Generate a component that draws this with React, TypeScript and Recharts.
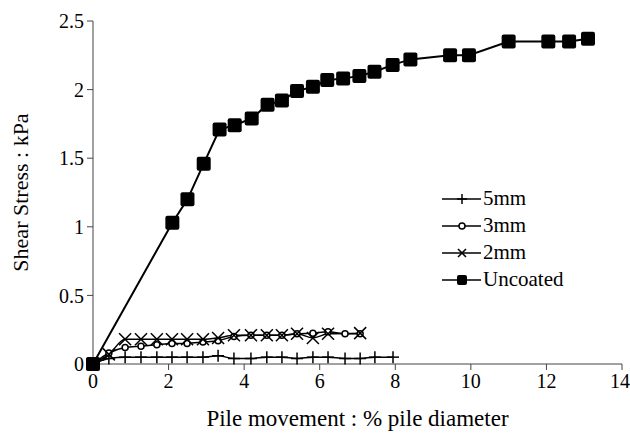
import { LineChart, Line, XAxis, YAxis } from 'recharts';

// pile movement (% pile diameter) for the coated series
const xCoated = [0, 0.42, 0.85, 1.27, 1.69, 2.09, 2.49, 2.91, 3.31, 3.73, 4.18, 4.6, 5.0, 5.4, 5.82, 6.22, 6.67, 7.07];
const x5mm = [...xCoated, 7.46, 7.94];
const x2mm = [0, 0.42, 0.85, 1.27, 1.69, 2.09, 2.49, 2.91, 3.31, 3.73, 4.18, 4.6, 5.0, 5.4, 5.82, 6.22, 7.07];
const xUncoated = [0, 2.1, 2.5, 2.93, 3.35, 3.75, 4.2, 4.62, 5.0, 5.4, 5.82, 6.2, 6.62, 7.05, 7.45, 7.93, 8.4, 9.45, 9.95, 11.0, 12.05, 12.6, 13.1];

// shear stress (kPa)
const s5mm = [0, 0.04, 0.05, 0.05, 0.05, 0.05, 0.05, 0.05, 0.06, 0.04, 0.04, 0.05, 0.05, 0.04, 0.05, 0.05, 0.04, 0.04, 0.05, 0.05];
const s3mm = [0, 0.08, 0.12, 0.13, 0.14, 0.15, 0.15, 0.16, 0.17, 0.2, 0.21, 0.21, 0.21, 0.22, 0.225, 0.235, 0.22, 0.22];
const s2mm = [0, 0.07, 0.18, 0.18, 0.18, 0.18, 0.18, 0.18, 0.19, 0.21, 0.21, 0.21, 0.21, 0.22, 0.19, 0.22, 0.225];
const sUncoated = [0, 1.03, 1.2, 1.46, 1.71, 1.74, 1.79, 1.89, 1.92, 1.99, 2.02, 2.07, 2.08, 2.1, 2.13, 2.18, 2.22, 2.25, 2.25, 2.35, 2.35, 2.35, 2.37];

const xTicks = [0, 2, 4, 6, 8, 10, 12, 14];
const yTicks = [0, 0.5, 1, 1.5, 2, 2.5];

const FONT = "'Times New Roman', 'Liberation Serif', 'DejaVu Serif', serif";

const toRows = (xs: number[], ys: number[]) => xs.map((x, i) => ({ x, y: ys[i] }));

const PlusDot = (props: any) => {
  const { cx, cy, size = 6 } = props;
  if (cx == null || cy == null) return null;
  return (
    <g>
      <line x1={cx} y1={cy - size} x2={cx} y2={cy + size} stroke="#000" strokeWidth={1.5} />
      <line x1={cx - size} y1={cy} x2={cx + size} y2={cy} stroke="#000" strokeWidth={1.5} />
    </g>
  );
};

const CircleDot = (props: any) => {
  const { cx, cy, r = 4.5 } = props;
  if (cx == null || cy == null) return null;
  return <circle cx={cx} cy={cy} r={r} fill="#fff" stroke="#000" strokeWidth={1.5} />;
};

const CrossDot = (props: any) => {
  const { cx, cy, size = 6 } = props;
  if (cx == null || cy == null) return null;
  return (
    <g>
      <line x1={cx - size} y1={cy - size} x2={cx + size} y2={cy + size} stroke="#000" strokeWidth={1.5} />
      <line x1={cx - size} y1={cy + size} x2={cx + size} y2={cy - size} stroke="#000" strokeWidth={1.5} />
    </g>
  );
};

const SquareDot = (props: any) => {
  const { cx, cy, size = 7 } = props;
  if (cx == null || cy == null) return null;
  return <rect x={cx - size} y={cy - size} width={size * 2} height={size * 2} rx={2} fill="#000" />;
};

const legendItems = [
  { label: '5mm', Marker: (p: any) => <PlusDot {...p} size={5} /> },
  { label: '3mm', Marker: (p: any) => <CircleDot {...p} r={3} /> },
  { label: '2mm', Marker: (p: any) => <CrossDot {...p} size={4} /> },
  { label: 'Uncoated', Marker: (p: any) => <SquareDot {...p} size={5} /> },
];

const ChartLegend = () => (
  <div style={{ position: 'absolute', left: 442, top: 185, fontFamily: FONT, fontSize: 21, color: '#000' }}>
    {legendItems.map(({ label, Marker }) => (
      <div key={label} style={{ display: 'flex', alignItems: 'center', height: 27 }}>
        <svg width={40} height={14} style={{ marginRight: 1 }}>
          <line x1={0} y1={7} x2={39} y2={7} stroke="#000" strokeWidth={1.5} />
          <Marker cx={20} cy={7} />
        </svg>
        <span>{label}</span>
      </div>
    ))}
  </div>
);

export default function App() {
  const axisTick = { fontFamily: FONT, fontSize: 20, fill: '#000' };
  return (
    <div style={{ position: 'absolute', left: 0, top: 0, width: 630, height: 436, background: '#fff' }}>
      <LineChart width={630} height={436} margin={{ top: 21, right: 8, bottom: 0, left: 0 }} style={{ fontFamily: FONT }}>
        <XAxis
          type="number"
          dataKey="x"
          domain={[0, 14]}
          ticks={xTicks}
          allowDuplicatedCategory={false}
          height={72}
          stroke="#444"
          tickSize={6}
          tick={axisTick}
          tickMargin={4}
          label={{ value: 'Pile movement : % pile diameter', position: 'insideBottom', offset: 10, style: { fontFamily: FONT, fontSize: 23, fill: '#000' } }}
        />
        <YAxis
          type="number"
          dataKey="y"
          domain={[0, 2.5]}
          ticks={yTicks}
          width={93}
          stroke="#444"
          tickSize={6}
          tick={axisTick}
          tickMargin={3}
          label={{ value: 'Shear Stress : kPa', angle: -90, position: 'insideLeft', offset: 20, style: { textAnchor: 'middle', fontFamily: FONT, fontSize: 22, fill: '#000' } }}
        />
        <Line data={toRows(x5mm, s5mm)} dataKey="y" name="5mm" type="monotone" stroke="#000" strokeWidth={1.5} dot={<PlusDot />} isAnimationActive={false} />
        <Line data={toRows(xCoated, s3mm)} dataKey="y" name="3mm" type="monotone" stroke="#000" strokeWidth={1.5} dot={<CircleDot />} isAnimationActive={false} />
        <Line data={toRows(x2mm, s2mm)} dataKey="y" name="2mm" type="monotone" stroke="#000" strokeWidth={1.5} dot={<CrossDot />} isAnimationActive={false} />
        <Line data={toRows(xUncoated, sUncoated)} dataKey="y" name="Uncoated" type="linear" stroke="#000" strokeWidth={2} dot={<SquareDot />} isAnimationActive={false} />
      </LineChart>
      <ChartLegend />
    </div>
  );
}
